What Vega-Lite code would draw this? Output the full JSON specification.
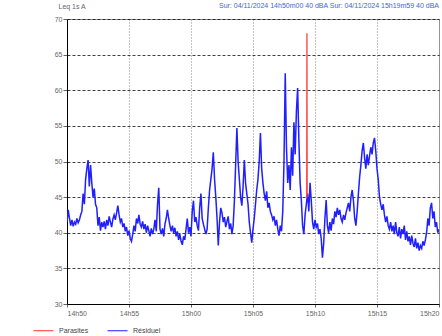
{
"$schema": "https://vega.github.io/schema/vega-lite/v6.json",
"width": 372, "height": 285,
"autosize": {"type": "none"},
"padding": {"left": 67, "top": 19, "right": 3, "bottom": 32},
"background": "white",
"title": {"text": "Sur: 04/11/2024 14h50m00   40 dBA   Sur: 04/11/2024 15h19m59   40 dBA", "anchor": "end", "frame": "group", "offset": -7, "fontSize": 7, "fontWeight": "normal", "color": "#4466cc", "font": "Liberation Sans"},
"config": {"view": {"stroke": "#999", "strokeWidth": 1}, "font": "Liberation Sans"},
"encoding": {
"x": {"field": "t", "type": "quantitative", "scale": {"domain": [0, 1800], "nice": false, "zero": false},
 "axis": {"title": null, "values": [0,300,600,900,1200,1500,1800], "labelExpr": "floor((890+datum.value/60)/60) + 'h' + (((890+datum.value/60)%60) < 10 ? '0' : '') + ((890+datum.value/60)%60)", "labelFlush": true, "labelFontSize": 7, "labelColor": "#666", "labelPadding": 2, "tickSize": 3, "tickColor": "#666", "domainColor": "#000", "grid": true, "gridColor": "#888", "gridDash": [1, 2], "gridOpacity": 1}},
"y": {"field": "v", "type": "quantitative", "scale": {"domain": [30, 70], "nice": false, "zero": false},
 "axis": {"title": "Leq 1s A", "titleAngle": 0, "titleAlign": "left", "titleBaseline": "alphabetic", "titleX": -9, "titleY": -11, "titleFontSize": 7, "titleFontWeight": "normal", "titleColor": "#666", "values": [30,35,40,45,50,55,60,65,70], "tickCount": 9, "labelOverlap": false, "labelFontSize": 7, "labelColor": "#666", "labelPadding": 1, "tickSize": 4, "tickColor": "#666", "domainColor": "#000", "grid": true, "gridColor": "#000", "gridDash": [3, 2], "gridOpacity": 0.75}}
},
"layer": [
{"data": {"values": [
{"t":0,"v":41.5},{"t":6,"v":43.2},{"t":12,"v":42.0},{"t":18,"v":41.0},{"t":24,"v":41.8},{"t":30,"v":40.9},{"t":36,"v":41.5},{"t":42,"v":41.2},{"t":48,"v":42.0},{"t":54,"v":41.4},{"t":60,"v":41.8},{"t":66,"v":42.5},{"t":72,"v":43.0},{"t":78,"v":45.5},{"t":84,"v":44.0},{"t":90,"v":47.5},{"t":96,"v":49.0},{"t":102,"v":50.2},{"t":108,"v":46.5},{"t":114,"v":49.5},{"t":120,"v":47.0},{"t":126,"v":45.0},{"t":132,"v":46.2},{"t":138,"v":44.0},{"t":144,"v":43.5},{"t":150,"v":41.0},{"t":156,"v":42.2},{"t":162,"v":40.3},{"t":168,"v":41.5},{"t":174,"v":40.8},{"t":180,"v":41.6},{"t":186,"v":40.5},{"t":192,"v":41.8},{"t":198,"v":41.0},{"t":204,"v":42.3},{"t":210,"v":41.5},{"t":216,"v":40.8},{"t":222,"v":41.9},{"t":228,"v":42.5},{"t":234,"v":41.8},{"t":240,"v":42.8},{"t":246,"v":43.8},{"t":252,"v":42.5},{"t":258,"v":41.5},{"t":264,"v":42.0},{"t":270,"v":40.8},{"t":276,"v":41.3},{"t":282,"v":40.2},{"t":288,"v":40.8},{"t":294,"v":39.6},{"t":300,"v":40.3},{"t":306,"v":39.2},{"t":312,"v":38.8},{"t":318,"v":39.8},{"t":324,"v":41.0},{"t":330,"v":40.2},{"t":336,"v":42.0},{"t":342,"v":41.3},{"t":348,"v":42.5},{"t":354,"v":41.2},{"t":360,"v":40.8},{"t":366,"v":41.6},{"t":372,"v":40.5},{"t":378,"v":41.2},{"t":384,"v":40.0},{"t":390,"v":41.0},{"t":396,"v":40.3},{"t":402,"v":39.5},{"t":408,"v":40.6},{"t":414,"v":39.8},{"t":420,"v":40.5},{"t":426,"v":41.8},{"t":432,"v":40.2},{"t":438,"v":44.0},{"t":444,"v":46.3},{"t":450,"v":40.5},{"t":456,"v":39.8},{"t":462,"v":40.6},{"t":468,"v":39.5},{"t":474,"v":41.2},{"t":480,"v":42.0},{"t":486,"v":43.2},{"t":492,"v":42.0},{"t":498,"v":41.0},{"t":504,"v":40.2},{"t":510,"v":41.0},{"t":516,"v":40.0},{"t":522,"v":40.7},{"t":528,"v":39.5},{"t":534,"v":40.2},{"t":540,"v":39.0},{"t":546,"v":39.8},{"t":552,"v":38.8},{"t":558,"v":38.3},{"t":564,"v":39.5},{"t":570,"v":39.0},{"t":576,"v":40.5},{"t":582,"v":42.0},{"t":588,"v":40.0},{"t":594,"v":40.8},{"t":600,"v":39.5},{"t":606,"v":43.0},{"t":612,"v":44.5},{"t":618,"v":41.5},{"t":624,"v":42.2},{"t":630,"v":41.0},{"t":636,"v":40.3},{"t":642,"v":43.5},{"t":648,"v":45.5},{"t":654,"v":42.0},{"t":660,"v":41.2},{"t":666,"v":40.5},{"t":672,"v":39.8},{"t":678,"v":40.5},{"t":684,"v":43.5},{"t":690,"v":46.0},{"t":696,"v":47.5},{"t":702,"v":49.0},{"t":708,"v":51.3},{"t":714,"v":47.5},{"t":720,"v":45.0},{"t":726,"v":42.0},{"t":732,"v":38.2},{"t":738,"v":41.5},{"t":744,"v":43.5},{"t":750,"v":42.8},{"t":756,"v":41.5},{"t":762,"v":42.2},{"t":768,"v":40.8},{"t":774,"v":41.6},{"t":780,"v":42.3},{"t":786,"v":40.5},{"t":792,"v":41.3},{"t":798,"v":39.8},{"t":804,"v":41.0},{"t":810,"v":44.5},{"t":816,"v":49.5},{"t":822,"v":54.7},{"t":828,"v":50.0},{"t":834,"v":47.5},{"t":840,"v":45.0},{"t":846,"v":43.8},{"t":852,"v":46.5},{"t":858,"v":50.2},{"t":864,"v":47.0},{"t":870,"v":45.5},{"t":876,"v":44.0},{"t":882,"v":41.5},{"t":888,"v":40.0},{"t":894,"v":38.6},{"t":900,"v":40.5},{"t":906,"v":42.0},{"t":912,"v":44.0},{"t":918,"v":46.0},{"t":924,"v":47.5},{"t":930,"v":50.0},{"t":936,"v":54.0},{"t":942,"v":49.0},{"t":948,"v":47.0},{"t":954,"v":45.5},{"t":960,"v":44.5},{"t":966,"v":45.8},{"t":972,"v":43.5},{"t":978,"v":44.2},{"t":984,"v":43.0},{"t":990,"v":42.5},{"t":996,"v":41.8},{"t":1002,"v":42.3},{"t":1008,"v":41.0},{"t":1014,"v":41.8},{"t":1020,"v":40.5},{"t":1026,"v":39.6},{"t":1032,"v":41.0},{"t":1038,"v":40.2},{"t":1044,"v":43.0},{"t":1050,"v":50.0},{"t":1056,"v":62.4},{"t":1062,"v":52.0},{"t":1068,"v":47.0},{"t":1074,"v":49.5},{"t":1080,"v":46.0},{"t":1086,"v":52.0},{"t":1092,"v":48.0},{"t":1098,"v":55.5},{"t":1104,"v":51.0},{"t":1110,"v":57.0},{"t":1116,"v":60.3},{"t":1122,"v":53.0},{"t":1128,"v":47.0},{"t":1134,"v":44.5},{"t":1140,"v":41.0},{"t":1146,"v":39.8},{"t":1152,"v":42.5},{"t":1158,"v":44.0},{"t":1164,"v":45.5},{"t":1170,"v":43.0},{"t":1176,"v":47.0},{"t":1182,"v":44.5},{"t":1188,"v":41.5},{"t":1194,"v":40.5},{"t":1200,"v":41.8},{"t":1206,"v":40.8},{"t":1212,"v":41.3},{"t":1218,"v":39.8},{"t":1224,"v":40.5},{"t":1230,"v":39.2},{"t":1236,"v":36.5},{"t":1242,"v":38.5},{"t":1248,"v":42.0},{"t":1254,"v":44.6},{"t":1260,"v":41.0},{"t":1266,"v":40.0},{"t":1272,"v":41.5},{"t":1278,"v":40.3},{"t":1284,"v":42.0},{"t":1290,"v":41.2},{"t":1296,"v":43.0},{"t":1302,"v":42.2},{"t":1308,"v":43.5},{"t":1314,"v":42.5},{"t":1320,"v":43.2},{"t":1326,"v":42.0},{"t":1332,"v":41.5},{"t":1338,"v":42.5},{"t":1344,"v":41.8},{"t":1350,"v":42.8},{"t":1356,"v":43.5},{"t":1362,"v":44.2},{"t":1368,"v":43.0},{"t":1374,"v":45.0},{"t":1380,"v":46.0},{"t":1386,"v":44.5},{"t":1392,"v":42.0},{"t":1398,"v":41.0},{"t":1404,"v":43.0},{"t":1410,"v":45.5},{"t":1416,"v":47.8},{"t":1422,"v":49.5},{"t":1428,"v":51.5},{"t":1434,"v":52.6},{"t":1440,"v":50.5},{"t":1446,"v":49.0},{"t":1452,"v":51.0},{"t":1458,"v":49.5},{"t":1464,"v":50.8},{"t":1470,"v":52.0},{"t":1476,"v":51.0},{"t":1482,"v":52.6},{"t":1488,"v":53.3},{"t":1494,"v":51.5},{"t":1500,"v":49.0},{"t":1506,"v":47.5},{"t":1512,"v":45.0},{"t":1518,"v":44.0},{"t":1524,"v":43.2},{"t":1530,"v":44.0},{"t":1536,"v":42.5},{"t":1542,"v":41.5},{"t":1548,"v":42.3},{"t":1554,"v":41.0},{"t":1560,"v":40.5},{"t":1566,"v":41.5},{"t":1572,"v":40.2},{"t":1578,"v":41.0},{"t":1584,"v":39.8},{"t":1590,"v":41.5},{"t":1596,"v":40.0},{"t":1602,"v":39.5},{"t":1608,"v":40.8},{"t":1614,"v":39.2},{"t":1620,"v":40.5},{"t":1626,"v":39.8},{"t":1632,"v":41.0},{"t":1638,"v":39.0},{"t":1644,"v":40.2},{"t":1650,"v":38.8},{"t":1656,"v":39.5},{"t":1662,"v":38.3},{"t":1668,"v":39.6},{"t":1674,"v":38.5},{"t":1680,"v":38.0},{"t":1686,"v":39.2},{"t":1692,"v":37.8},{"t":1698,"v":38.6},{"t":1704,"v":37.5},{"t":1710,"v":38.2},{"t":1716,"v":37.8},{"t":1722,"v":38.8},{"t":1728,"v":38.2},{"t":1734,"v":39.0},{"t":1740,"v":40.0},{"t":1746,"v":42.0},{"t":1752,"v":41.0},{"t":1758,"v":43.5},{"t":1764,"v":44.2},{"t":1770,"v":42.0},{"t":1776,"v":43.0},{"t":1782,"v":40.8},{"t":1788,"v":41.5},{"t":1794,"v":40.0},{"t":1800,"v":40.5}
]},
"mark": {"type": "line", "strokeWidth": 1.5, "clip": true},
"encoding": {
"color": {"datum": "Résiduel", "type": "nominal", "scale": {"domain": ["Parasites", "Résiduel"], "range": ["#ff3030", "#1f1fff"]},
 "legend": {"title": null, "orient": "none", "legendX": -34, "legendY": 301, "direction": "horizontal", "symbolType": "stroke", "symbolSize": 400, "symbolStrokeWidth": 1, "labelFontSize": 7, "labelColor": "#444", "labelOffset": 5, "columnPadding": 16}}
}},
{"data": {"values": [{"t":1160,"v":45.0},{"t":1161,"v":68.0},{"t":1162,"v":45.0}]},
"mark": {"type": "line", "strokeWidth": 1.2, "clip": true},
"encoding": {
"color": {"datum": "Parasites", "type": "nominal"}
}}
]
}
